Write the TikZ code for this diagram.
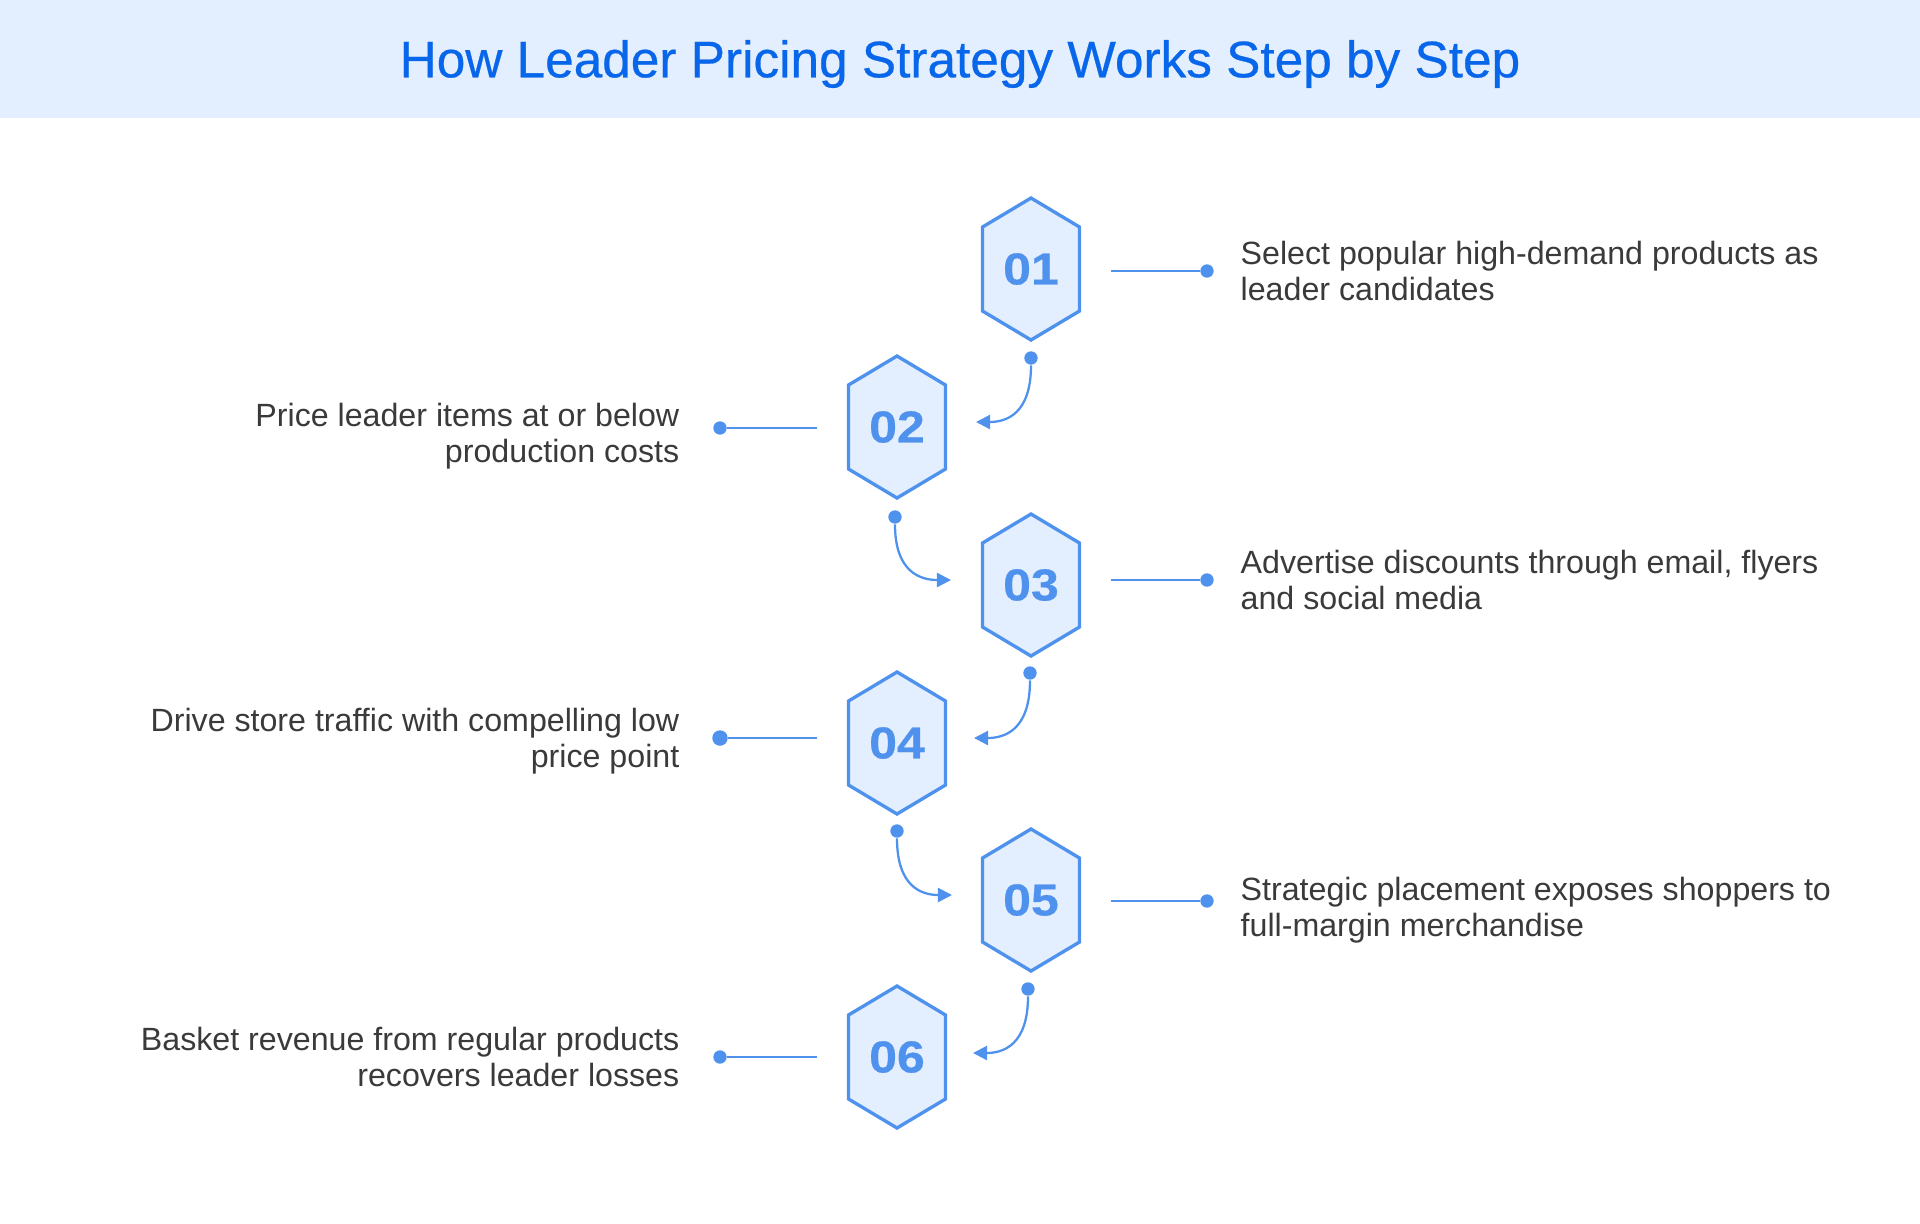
\documentclass[tikz,border=0pt]{standalone}
\usepackage{fontspec}
\setmainfont{Liberation Sans}
\newfontfamily\titlefont[FakeBold=0.5]{Liberation Sans}
\newfontfamily\digitfont[BoldFeatures={FakeStretch=1.12,FakeBold=0.5}]{Liberation Sans}
\usetikzlibrary{arrows.meta}
\definecolor{bandblue}{HTML}{E3EEFE}
\definecolor{titleblue}{HTML}{0766EA}
\definecolor{stepblue}{HTML}{4F92EE}
\definecolor{bodygray}{HTML}{3A3A3C}
\begin{document}
\begin{tikzpicture}
	[x=0.01cm, y=-0.01cm,
	hexline/.style={draw=stepblue, fill=bandblue, line width=0.95pt, line join=miter},
	steplabel/.style={text=stepblue, font=\digitfont\bfseries\fontsize{12.7}{14}\selectfont, inner sep=0pt},
	leadline/.style={stepblue, line width=0.65pt},
	bendline/.style={stepblue, line width=0.65pt, -{Triangle[length=4pt, width=4pt]}},
	enddot/.style={circle, fill=stepblue, inner sep=0pt, minimum size=3.8pt},
	bodytext/.style={text=bodygray, font=\fontsize{9.15}{10.3}\selectfont, inner sep=0pt}]

	\useasboundingbox (0,0) rectangle (1920,1223);

	% Draw title band
	\fill[bandblue] (0,0) rectangle (1920,118);
	\node[text=titleblue, font=\titlefont\fontsize{14.6}{16}\selectfont, inner sep=0pt] (title) at (960,64) {How Leader Pricing Strategy Works Step by Step};

	% Draw hexagons
	\foreach \n/\x/\y in {1/1031/269, 2/897/427, 3/1031/585, 4/897/743, 5/1031/900, 6/897/1057}
	{
		\draw[hexline] (\x,\y-71) -- (\x+48.5,\y-42) -- (\x+48.5,\y+42) -- (\x,\y+71) -- (\x-48.5,\y+42) -- (\x-48.5,\y-42) -- cycle;
		\node[steplabel] (hex\n) at (\x,\y) {0\n};
	}

	% Draw side lines
	\foreach \n/\xa/\xb/\y/\d in {1/1111/1207/271/3.8, 2/817/720/428/3.8, 3/1111/1207/580/3.8, 4/817/720/738/4.4, 5/1111/1207/901/3.8, 6/817/720/1057/3.8}
	{
		\coordinate (start\n) at (\xa,\y);
		\node[enddot, minimum size=\d pt] (dot\n) at (\xb,\y) {};
		\draw[leadline] (start\n) -- (dot\n);
	}

	% Draw bent arrows
	\foreach \n/\x/\y/\tx/\ty in {1/1031/358/976/422, 2/895/517/951/580, 3/1030/673/974/738, 4/897/831/952/895, 5/1028/989/973/1053}
	{
		\node[enddot] (bend\n) at (\x,\y) {};
		\coordinate (tip\n) at (\tx,\ty);
		\draw[bendline] (bend\n) .. controls (\x,\ty-8) and (\x+0.45*\tx-0.45*\x,\ty) .. (tip\n);
	}

	% Draw texts
	\node[bodytext, anchor=west, align=left] (text1) at (1240,271) {Select popular high-demand products as\\leader candidates};
	\node[bodytext, anchor=east, align=right] (text2) at (680,436) {Price leader items at or below\\production costs};
	\node[bodytext, anchor=west, align=left] (text3) at (1240,580) {Advertise discounts through email, flyers\\and social media};
	\node[bodytext, anchor=east, align=right] (text4) at (680,741) {Drive store traffic with compelling low\\price point};
	\node[bodytext, anchor=west, align=left] (text5) at (1240,910) {Strategic placement exposes shoppers to\\full-margin merchandise};
	\node[bodytext, anchor=east, align=right] (text6) at (680,1057) {Basket revenue from regular products\\recovers leader losses};

\end{tikzpicture}
\end{document}
